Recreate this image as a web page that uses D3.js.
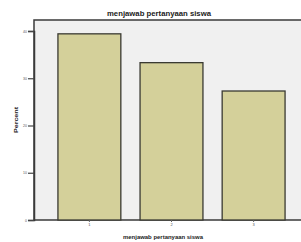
<!DOCTYPE html>
<html>
<head>
<meta charset="utf-8">
<script src="https://cdn.jsdelivr.net/npm/d3@7"></script>
<style>
  body { margin: 0; background: #fff; }
  text { font-family: "Liberation Sans", Arial, sans-serif; }
</style>
</head>
<body>
<div id="chart"></div>
<script>
const categories = ["1", "2", "3"];
const percents = [39.4, 33.3, 27.3];
const yTicks = [0, 10, 20, 30, 40];
const chartTitle = "menjawab pertanyaan siswa";
const xTitle = "menjawab pertanyaan siswa";
const yTitle = "Percent";

const W = 301, H = 242;
const svg = d3.select("#chart").append("svg")
  .attr("width", W).attr("height", H);

const plot = {left: 34, top: 20, right: 312, bottom: 220};

// plot background / frame
svg.append("rect")
  .attr("x", plot.left).attr("y", plot.top)
  .attr("width", plot.right - plot.left).attr("height", plot.bottom - plot.top)
  .attr("fill", "#f0f0f0")
  .attr("stroke", "#3a3a3a")
  .attr("stroke-width", 1.5);

const x = d3.scaleBand().domain(categories)
  .range([37, 306]).paddingInner(0.234).paddingOuter(0.255);
const y = d3.scaleLinear().domain([0, 40]).range([plot.bottom, 31]);

// bars
svg.selectAll("rect.bar")
  .data(categories)
  .join("rect")
  .attr("class", "bar")
  .attr("x", d => x(d))
  .attr("y", (d, i) => y(percents[i]))
  .attr("width", x.bandwidth())
  .attr("height", (d, i) => y(0) - y(percents[i]))
  .attr("fill", "#d4d09a")
  .attr("stroke", "#3a3a32")
  .attr("stroke-width", 1.3);

// y axis
const yAxis = svg.append("g")
  .attr("transform", `translate(${plot.left},0)`)
  .call(d3.axisLeft(y).tickValues(yTicks).tickSize(6).tickPadding(1));
yAxis.select(".domain").attr("stroke", "#3a3a3a").attr("stroke-width", 1.5);
yAxis.selectAll(".tick line").attr("stroke", "#444").attr("stroke-width", 1.2);
yAxis.selectAll(".tick text").attr("font-size", 3.5).attr("fill", "#555");

// x axis
const xAxis = svg.append("g")
  .attr("transform", `translate(0,${plot.bottom})`)
  .call(d3.axisBottom(x).tickSize(2).tickPadding(1));
xAxis.select(".domain").remove();
xAxis.selectAll(".tick line").attr("stroke", "#666");
xAxis.selectAll(".tick text").attr("font-size", 4).attr("fill", "#555");

// titles
svg.append("text")
  .attr("x", 159).attr("y", 16)
  .attr("text-anchor", "middle")
  .attr("font-size", 6.5).attr("font-weight", "bold")
  .attr("textLength", 104).attr("lengthAdjust", "spacingAndGlyphs")
  .attr("fill", "#222")
  .text(chartTitle);

svg.append("text")
  .attr("x", 163).attr("y", 239)
  .attr("text-anchor", "middle")
  .attr("font-size", 5.5).attr("font-weight", "bold")
  .attr("textLength", 80).attr("lengthAdjust", "spacingAndGlyphs")
  .attr("fill", "#222")
  .text(xTitle);

svg.append("text")
  .attr("transform", "translate(18,120) rotate(-90)")
  .attr("text-anchor", "middle")
  .attr("font-size", 5.5).attr("font-weight", "bold")
  .attr("textLength", 26).attr("lengthAdjust", "spacingAndGlyphs")
  .attr("fill", "#222")
  .text(yTitle);
</script>
</body>
</html>
